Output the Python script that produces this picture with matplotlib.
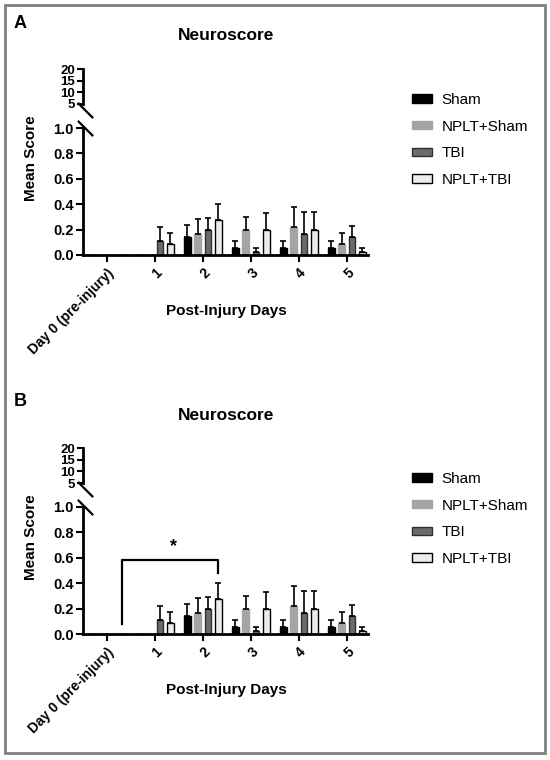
import matplotlib
matplotlib.use('Agg')
import matplotlib.pyplot as plt
from matplotlib.patches import Patch, Rectangle
import numpy as np

plt.rcParams['font.family'] = ['Liberation Sans', 'DejaVu Sans']

# data (same values in panel A and B)
days = ['Day 0 (pre-injury)', '1', '2', '3', '4', '5']
groups = ['Sham', 'NPLT+Sham', 'TBI', 'NPLT+TBI']
sham_mean = [0, 0, 0.14, 0.057, 0.057, 0.057]
sham_err = [0, 0, 0.10, 0.057, 0.057, 0.057]
nplt_sham_mean = [0, 0, 0.164, 0.195, 0.223, 0.083]
nplt_sham_err = [0, 0, 0.116, 0.105, 0.157, 0.087]
tbi_mean = [0, 0.11, 0.195, 0.02, 0.164, 0.138]
tbi_err = [0, 0.11, 0.10, 0.035, 0.174, 0.092]
nplt_tbi_mean = [0, 0.083, 0.278, 0.195, 0.195, 0.026]
nplt_tbi_err = [0, 0.087, 0.127, 0.135, 0.143, 0.026]

means = [sham_mean, nplt_sham_mean, tbi_mean, nplt_tbi_mean]
errs = [sham_err, nplt_sham_err, tbi_err, nplt_tbi_err]
fills = ['#000000', '#a4a4a4', '#6b6b6b', '#ececec']
edges = ['#000000', '#a4a4a4', '#303030', '#000000']

W, H = 550, 760
fig = plt.figure(figsize=(5.5, 7.6), dpi=100)

pitch = 0.215
width = 0.14
x = np.arange(len(days))


def px(xp, yp):
    return xp / W, 1 - yp / H


def panel(off, letter, bracket):
    # lower axes 0-1, upper axes 5-20 (broken axis)
    l, b0 = px(83, 255 + off)
    ax = fig.add_axes([l, b0, 285 / W, 127 / H])
    _, b1 = px(83, 104 + off)
    axt = fig.add_axes([l, b1, 285 / W, 35 / H])

    for i in range(4):
        xi = x + (i - 1.5) * pitch
        ax.bar(xi, means[i], width, color=fills[i], edgecolor=edges[i],
               linewidth=1.0, zorder=2)
        m = np.array(means[i])
        e = np.array(errs[i])
        k = e > 0
        ax.errorbar(xi[k], m[k], yerr=[np.zeros(k.sum()), e[k]], fmt='none',
                    ecolor='black', elinewidth=1.2, capsize=2, capthick=1.2,
                    zorder=3)

    for a in (ax, axt):
        a.set_xlim(-0.5, 5.44)
        a.spines['top'].set_visible(False)
        a.spines['right'].set_visible(False)
        a.spines['left'].set_linewidth(2)
        a.spines['bottom'].set_linewidth(2)
        a.tick_params(width=1.5, length=5, pad=1.5, labelsize=10)

    ax.set_ylim(0, 1.0)
    ax.set_yticks(np.arange(0, 1.01, 0.2))
    ax.set_yticklabels(['%.1f' % v for v in np.arange(0, 1.01, 0.2)],
                       fontweight='bold', fontsize=10.5)
    ax.set_xticks(x)
    ax.set_xticklabels(days, rotation=45, ha='right', rotation_mode='anchor',
                       fontweight='bold', fontsize=10)
    ax.tick_params(axis='x', length=5, pad=3)

    axt.set_ylim(5, 20)
    axt.set_yticks([5, 10, 15, 20])
    axt.set_yticklabels(['5', '10', '15', '20'], fontweight='bold', fontsize=9.5)
    axt.tick_params(axis='y', length=4)
    axt.spines['bottom'].set_visible(False)
    axt.set_xticks([])
    axt.patch.set_alpha(0)

    # break marks
    kw = dict(marker=[(-1, 1), (1, -1)], markersize=11, linestyle='none',
              color='black', mec='black', mew=1.6, clip_on=False)
    axt.plot([0.006], [-0.17], transform=axt.transAxes, **kw)
    ax.plot([0.006], [1.0], transform=ax.transAxes, **kw)

    if bracket:
        xl = 0 + 1.5 * pitch
        xr = 2 + 1.5 * pitch
        ax.plot([xl, xl, xr, xr], [0.08, 0.58, 0.58, 0.48], color='black',
                lw=1.6, clip_on=False, zorder=4)
        ax.text((xl + xr) / 2 + 0.06, 0.69, '*', ha='center', va='center',
                fontsize=13, fontweight='bold')

    # titles and labels
    fig.text(*px(226, 36 + off), 'Neuroscore', ha='center', va='center',
             fontsize=12.5, fontweight='bold')
    fig.text(*px(20, 23 + off), letter, ha='center', va='center',
             fontsize=13, fontweight='bold')
    fig.text(*px(31, 158 + off), 'Mean Score', ha='center', va='center',
             rotation=90, fontsize=11, fontweight='bold')
    fig.text(*px(226, 311 + off), 'Post-Injury Days', ha='center',
             va='center', fontsize=11, fontweight='bold')

    handles = [Patch(facecolor=fills[i], edgecolor=edges[i], linewidth=1.0)
               for i in range(4)]
    ax.legend(handles, groups, loc='upper left',
              bbox_to_anchor=px(412, 93 + off), bbox_transform=fig.transFigure,
              frameon=False, fontsize=11, borderpad=0, borderaxespad=0,
              handlelength=1.3, handleheight=0.45, handletextpad=0.65,
              labelspacing=0.83)


panel(0, 'A', False)
panel(379, 'B', True)

fig.patches.append(Rectangle(px(5, 753), 540 / W, 748 / H,
                             transform=fig.transFigure, fill=False,
                             edgecolor='#808080', linewidth=2))

fig.savefig('out.png', dpi=100)
